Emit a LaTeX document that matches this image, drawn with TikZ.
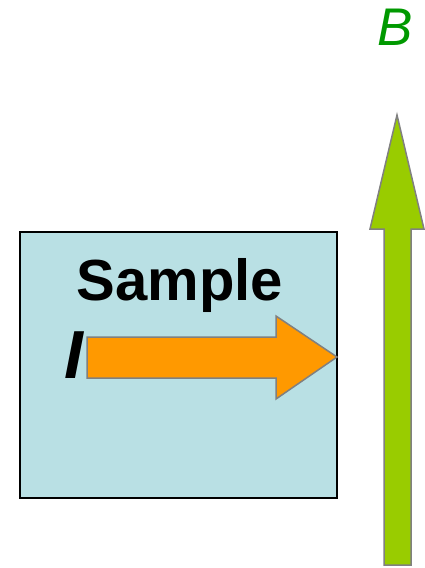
\documentclass[tikz,border=0pt]{standalone}
\usepackage{fontspec}
\setmainfont{Liberation Sans}
\definecolor{samplefill}{RGB}{185,224,228}
\definecolor{currentfill}{RGB}{255,153,0}
\definecolor{fieldfill}{RGB}{153,204,0}
\definecolor{fieldlabel}{RGB}{0,153,0}
\definecolor{arrowedge}{RGB}{128,128,128}
\tikzset{
  samplebox/.style={draw=black, line width=1.4pt, fill=samplefill},
  blockarrow/.style={draw=arrowedge, line width=1.5pt, line join=miter},
  labeltext/.style={inner sep=0pt, anchor=base}
}
\begin{document}
\begin{tikzpicture}[x=1pt, y=-1pt]
  \useasboundingbox (0,0) rectangle (425,568);
  % sample slab
  \draw[samplebox] (20,232) rectangle (337,498);
  % current arrow through the sample
  \draw[blockarrow, fill=currentfill]
    (87,337) -- (276,337) -- (276,316) -- (337,357) -- (276,399)
    -- (276,378) -- (87,378) -- cycle;
  % magnetic field arrow
  \draw[blockarrow, fill=fieldfill]
    (384,565) -- (384,229) -- (370,229) -- (397,115) -- (424,229)
    -- (411,229) -- (411,565) -- cycle;
  % labels
  \node[labeltext] (sample) at (180,300)
    {\fontsize{58}{58}\selectfont\bfseries Sample};
  \node[labeltext] (current) at (74,378)
    {\fontsize{68}{68}\selectfont\bfseries\itshape I};
  \node[labeltext, text=fieldlabel] (field) at (395,45)
    {\fontsize{53}{53}\selectfont\itshape B};
\end{tikzpicture}
\end{document}
